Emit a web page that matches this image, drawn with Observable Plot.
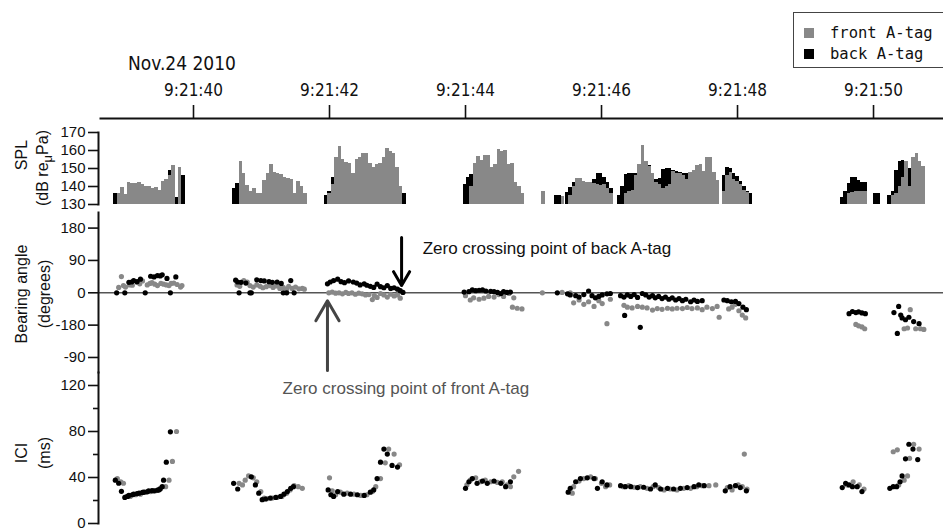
<!DOCTYPE html>
<html><head><meta charset="utf-8">
<script src="https://cdn.jsdelivr.net/npm/d3@7"></script>
<script src="https://cdn.jsdelivr.net/npm/@observablehq/plot@0.6"></script>
<style>
body{margin:0;background:#fff;}
#chart{position:relative;width:943px;height:530px;overflow:hidden;font-family:"Liberation Sans",Arial,sans-serif;color:#111;}
#chart svg{position:absolute;left:0;overflow:visible;background:transparent;}
.ylab{position:absolute;white-space:nowrap;transform:translate(-50%,-50%) rotate(-90deg);font-size:16px;line-height:16px;}
.legend{position:absolute;left:793px;top:12px;width:170px;height:54px;border:1px solid #444;background:#fff;font-family:"DejaVu Sans Mono",monospace;font-size:15.5px;}
.legend .it{position:absolute;left:10px;height:20px;display:flex;align-items:center;}
.legend .sw{width:10px;height:10px;margin-right:16px;}
</style></head><body><div id="chart"></div>
<script>
// ---------------- data ----------------
const series = ["front A-tag", "back A-tag"];
const seriesColors = ["#888888", "#000000"];
const dateLabel = "Nov.24 2010";
const timeTicks = [40, 42, 44, 46, 48, 50];              // seconds after 9:21:00
const timeTickLabels = ["9:21:40", "9:21:42", "9:21:44", "9:21:46", "9:21:48", "9:21:50"];
const splTicks = [130, 140, 150, 160, 170];
const bearingTicks = [180, 90, 0, -90, -180];
const bearingTickLabels = ["180", "90", "0", "-180", "-90"];
const iciTicks = [0, 40, 80, 120];
const iciMinorTicks = [20, 60, 100];

// SPL: bursts of 0.05 s bins, start times (s after 9:21:00); null = no bar
const splBin = 0.05;
const splStarts = [38.83, 40.57, 41.926, 43.966, 45.12, 45.31, 45.471, 46.235, 47.775, 49.515, 50.0, 50.21];
const splFront = [
  [null,136,139.5,135.5,142,141.6,141.6,142.5,141,140,140,139,139.5,138,143,144,146,151.5,null,150.5,null],
  [null,null,154,147,140.5,137,138.7,136,136,143.5,147,152.2,148,147,146.5,145,144.5,144,136,143,140,136],
  [null,136,141,156,162.5,155,153.5,153,147.5,155,156,158.5,158.5,153,150.5,152.4,153,156,161,159.5,158.5,150.5,140,null],
  [null,null,140,153,156.5,154.5,157,157,150.5,152,160.5,159.5,160,152,153,142.5,140,136],
  [137],
  [null,null,134.5],
  [null,135,140,144.5,144.3,143,142.5,142,141.5,141,140.5,141,139,136],
  [null,null,136,137,138,146,152.5,163,154,151,147,142.5,141,139,140,141,148.5,147.5,147,146,144,148,149,151.4,152.5,148.5,156,156,148,143.5],
  [137,146,148,144,143,141,138,136.5,null],
  [null,null,136,136.5,137,137.5,137.5,137.5],
  [null,null],
  [null,135,136,140,145,154,140,156,158.5,154,151]
];
const splBack = [
  [136,null,null,null,null,null,null,null,null,null,null,null,null,null,null,null,149,null,134,null,146],
  [139,141.8],
  [135,137.5,145,null,null,null,null,null,null,null,null,null,null,null,null,null,null,null,null,null,null,null,null,136],
  [141,145,146.8],
  [null],
  [135,135,null],
  [136.5,139.5,142,null,null,null,null,null,144,147,147,145,142,139],
  [135,140,146.5,147.5,147.5,147,null,null,null,151.5,null,144,144.5,149.4,150,150,149,148.5,147.8,147.5,147.5],
  [146,150.5,150,147.5,145.5,143,140,137.5,136],
  [134,137,141.5,145,145,143.5,142,142],
  [136,136],
  [135,137,149,154,154.5,153,150,155,150,154,140]
];

// Bearing angle [time, degrees]
const bearingFront = [
  [38.9,15],[38.94,45],[38.97,20],[39.0,16],[39.06,22],[39.1,21],[39.17,29],[39.21,25],[39.25,33],[39.32,22],[39.36,26],[39.39,28],[39.43,24],[39.47,20],[39.52,26],[39.56,24],[39.6,22],[39.64,20],[39.67,26],[39.71,27],[39.76,23],[39.81,16],[39.83,20],
  [40.64,22],[40.68,18],[40.74,34],[40.79,30],[40.83,20],[40.88,16],[40.93,22],[40.98,18],[41.02,14],[41.07,17],[41.12,20],[41.17,15],[41.22,19],[41.27,12],[41.32,15],[41.37,10],[41.4,18],[41.45,12],[41.5,16],[41.55,11],[41.6,12],[41.63,10],
  [41.99,0],[42.04,2],[42.09,-1],[42.14,0],[42.19,-3],[42.24,1],[42.28,-2],[42.33,0],[42.38,-4],[42.43,-1],[42.48,-3],[42.53,-6],[42.58,-5],[42.63,-19],[42.66,-8],[42.7,-13],[42.75,-2],[42.8,-6],[42.85,-12],[42.9,-4],[42.95,-9],[43.0,-6],[43.04,-15],
  [44.0,-8],[44.07,-20],[44.12,-14],[44.2,-18],[44.27,-15],[44.34,-10],[44.42,-12],[44.49,-5],[44.56,-10],[44.64,-2],[44.69,-40],[44.71,-14],[44.76,-43],[44.83,-45],
  [45.13,0],[45.42,1],[45.54,0],[45.59,-28],[45.67,-20],[45.74,-32],[45.81,-25],[45.89,-38],[45.96,-22],[46.01,-30],[46.08,-86],[46.13,-18],
  [46.33,-35],[46.38,-40],[46.45,-42],[46.53,-38],[46.6,-40],[46.67,-42],[46.75,-48],[46.82,-44],[46.89,-46],[46.97,-43],[47.04,-45],[47.11,-43],[47.19,-44],[47.26,-41],[47.33,-44],[47.41,-42],[47.48,-47],[47.55,-40],[47.63,-44],[47.7,-38],[47.73,-68],
  [47.87,-45],[47.92,-40],[47.97,-32],[48.02,-50],[48.07,-62],[48.12,-70],
  [49.74,-88],[49.78,-92],[49.83,-95],[49.87,-100],
  [50.45,-100],[50.5,-98],[50.54,-47],[50.62,-100],[50.69,-100],[50.74,-102]
];
const bearingBack = [
  [38.87,0],[38.99,0],[39.05,29],[39.09,30],[39.12,34],[39.17,31],[39.22,38],[39.29,0],[39.37,46],[39.42,44],[39.47,48],[39.51,47],[39.54,50],[39.61,40],[39.66,0],[39.74,44],
  [40.62,35],[40.65,30],[40.67,0],[40.7,29],[40.77,27],[40.83,0],[40.85,0],[40.93,36],[40.99,34],[41.04,33],[41.11,31],[41.16,29],[41.23,30],[41.29,26],[41.32,0],[41.37,0],[41.43,34],[41.48,0],
  [41.97,25],[42.01,30],[42.06,34],[42.12,38],[42.17,31],[42.22,28],[42.28,33],[42.35,30],[42.4,27],[42.45,22],[42.51,25],[42.55,21],[42.6,18],[42.65,15],[42.7,24],[42.75,17],[42.8,14],[42.85,20],[42.9,12],[42.95,14],[43.0,10],[43.04,6],[43.08,1],
  [43.98,2],[44.05,3],[44.1,8],[44.15,6],[44.2,7],[44.25,8],[44.3,5],[44.37,4],[44.42,3],[44.47,1],[44.52,-2],[44.56,3],[44.61,1],[44.66,2],
  [45.35,0],[45.5,-3],[45.54,-6],[45.62,-8],[45.67,-12],[45.74,-5],[45.81,5],[45.86,-8],[45.91,-14],[45.96,-10],[46.01,-6],[46.08,-3],[46.13,-2],
  [46.28,-8],[46.33,-12],[46.34,-63],[46.38,-6],[46.43,-10],[46.48,-5],[46.53,-13],[46.57,-96],[46.6,-2],[46.65,-6],[46.7,-12],[46.75,-8],[46.79,-14],[46.84,-10],[46.89,-16],[46.94,-12],[46.99,-18],[47.04,-14],[47.09,-20],[47.14,-16],[47.19,-22],[47.24,-18],[47.31,-25],[47.36,-20],[47.41,-24],[47.48,-22],
  [47.8,-20],[47.85,-22],[47.91,-25],[47.97,-24],[48.02,-30],[48.08,-40],[48.13,-47],
  [49.64,-58],[49.69,-52],[49.74,-55],[49.78,-53],[49.83,-56],[49.88,-58],
  [50.3,-55],[50.35,-113],[50.37,-38],[50.4,-62],[50.42,-70],[50.47,-75],[50.52,-68],[50.59,-80],[50.67,-86]
];

// ICI [time, ms]
const iciFront = [
  [38.88,39],[38.93,36.3],[38.97,35],[39.02,23.5],[39.07,23.5],[39.15,25],[39.22,25.5],[39.29,27.2],[39.37,27.8],[39.44,28.4],[39.51,30.6],[39.59,32],[39.64,37.7],[39.69,54],[39.75,80],
  [40.67,34.9],[40.72,33.5],[40.76,37.7],[40.81,41.4],[40.88,39.7],[40.93,36.3],[40.99,27.8],[41.04,22.1],[41.08,21.6],[41.16,22.1],[41.23,22.7],[41.3,23.5],[41.37,26.4],[41.42,29.2],[41.48,32.9],[41.54,32],[41.6,30.6],
  [42.0,39.7],[42.04,28.4],[42.09,25],[42.16,27.2],[42.26,26.4],[42.36,25.5],[42.46,24.4],[42.55,25],[42.63,27.8],[42.68,32],[42.75,39.1],[42.82,52.8],[42.87,64.7],[42.95,60.4],[43.03,51],
  [44.02,33.5],[44.07,37.7],[44.15,39.7],[44.22,36.3],[44.29,37.7],[44.37,36.3],[44.47,35.7],[44.54,36.3],[44.61,33.5],[44.66,32],[44.71,40.6],[44.78,45.4],
  [45.57,26.4],[45.59,32],[45.67,36.9],[45.74,39.1],[45.84,40.6],[45.91,39.1],[46.0,34.9],[46.06,32],[46.12,33.5],
  [46.32,32],[46.4,32.9],[46.48,31.5],[46.57,32],[46.67,30.6],[46.76,32],[46.84,31.2],[46.92,29.2],[47.01,30],[47.11,29.2],[47.21,30.6],[47.31,30.6],[47.4,32],[47.48,32.9],[47.58,32.9],[47.68,33.5],
  [47.85,31.2],[47.92,29.2],[48.01,33.5],[48.07,32],[48.1,60.4],[48.14,30],
  [49.61,33.5],[49.7,36.3],[49.79,33.5],[49.86,30],
  [50.29,62.4],[50.35,64.1],[50.37,33.5],[50.45,37.7],[50.5,41.4],[50.53,56.7],[50.59,68.9],[50.67,64.7]
];
const iciBack = [
  [38.85,37.7],[38.9,35],[38.94,28],[38.99,22.7],[39.03,23.5],[39.05,24.4],[39.1,25],[39.12,25.5],[39.17,26],[39.2,26.4],[39.25,27],[39.27,27.2],[39.32,27.5],[39.34,28.4],[39.39,28.5],[39.42,28.4],[39.47,29],[39.49,29.2],[39.51,30],[39.54,32],[39.56,37.7],[39.6,53.3],[39.66,79.7],
  [40.59,34.9],[40.65,30],[40.85,40.6],[40.91,33.5],[40.96,26.4],[41.01,20.7],[41.06,21.3],[41.13,22.1],[41.21,22.7],[41.28,23.5],[41.33,25.5],[41.38,27.8],[41.43,30.6],[41.47,32],
  [41.98,29.2],[42.02,25],[42.06,23.5],[42.12,27.8],[42.21,25.5],[42.31,25.5],[42.41,25],[42.51,24.4],[42.6,27.2],[42.65,29.2],[42.7,39.1],[42.75,53.3],[42.8,64.7],[42.85,60.4],[42.92,50.5],[43.0,49.1],
  [44.0,30.6],[44.05,36.3],[44.1,39.1],[44.17,34.9],[44.25,36.9],[44.32,34.9],[44.42,36.9],[44.52,34.9],[44.59,32],[44.66,36.3],
  [45.51,27.2],[45.54,30.6],[45.62,36.3],[45.69,39.1],[45.79,39.7],[45.89,39.1],[45.94,30.6],[46.01,36.3],[46.08,33.5],
  [46.28,32.9],[46.35,32],[46.43,32],[46.53,31.2],[46.62,31.5],[46.72,30],[46.79,33.5],[46.87,30],[46.97,30.6],[47.06,30],[47.16,30.6],[47.26,31.2],[47.36,32],[47.43,33.5],[47.51,32.9],
  [47.82,28.4],[47.89,32],[47.97,32.9],[48.04,31.2],[48.13,28.4],
  [49.54,31.2],[49.59,34.9],[49.64,33.5],[49.69,32],[49.76,32],[49.83,27.8],
  [50.24,30.6],[50.29,32],[50.34,32],[50.39,36.3],[50.42,41.4],[50.47,56.2],[50.52,68.9],[50.58,64.7],[50.65,55.6]
];

// annotations: zero crossing times
const backCrossing = [{t: 43.06, from: 154, to: 20}];
const frontCrossing = [{t: 41.97, from: -216, to: -22}];
const backCrossLabel = [{t: 43.37, v: 123, text: "Zero crossing point of back A-tag"}];
const frontCrossLabel = [{t: 41.31, v: 117.4, text: "Zero crossing point of front A-tag"}];

// ---------------- layout ----------------
const W = 943, ML = 98;
const xDomain = [38.603, 51.029];
const chart = document.getElementById("chart");
const baseStyle = {fontFamily: "'Liberation Sans', Arial, sans-serif", fontSize: "15px", color: "#111", background: "transparent", overflow: "visible"};
function place(svg, top) { svg.style.top = top + "px"; chart.appendChild(svg); }

// top time axis
place(Plot.plot({
  width: W, height: 125, marginTop: 118, marginBottom: 7, marginLeft: ML + 2, marginRight: 0,
  x: {domain: [38.603 + 2/68, 51.029]},
  style: {...baseStyle, fontFamily: "'Liberation Sans Narrow', 'DejaVu Sans Condensed', sans-serif", fontSize: "17px"},
  marks: [
    Plot.axisX(timeTicks, {anchor: "top", tickSize: 14, tickPadding: 9, strokeWidth: 1.6,
      tickFormat: d => timeTickLabels[timeTicks.indexOf(d)], label: null}),
    Plot.frame({anchor: "top", strokeWidth: 2})
  ]
}), 0);

// SPL bars
const splRows = [];
splStarts.forEach((s, b) => {
  series.forEach((name, k) => {
    const vals = k === 0 ? splFront[b] : splBack[b];
    vals.forEach((v, i) => { if (v != null) splRows.push({series: name, t1: s + i * splBin, t2: s + (i + 1) * splBin, v}); });
  });
});
place(Plot.plot({
  width: W, height: 85, marginTop: 7, marginBottom: 6, marginLeft: ML, marginRight: 0,
  x: {domain: xDomain, axis: null},
  y: {domain: [130, 170], clamp: true, axis: null},
  style: baseStyle,
  marks: [
    Plot.rect(splRows.filter(d => d.series === series[1]), {x1: "t1", x2: "t2", y1: d => 130, y2: "v", fill: seriesColors[1], shapeRendering: "crispEdges"}),
    Plot.rect(splRows.filter(d => d.series === series[0]), {x1: "t1", x2: "t2", y1: d => 130, y2: "v", fill: seriesColors[0], shapeRendering: "crispEdges"}),
    Plot.axisY(splTicks, {anchor: "left", tickSize: 10, tickPadding: 3, strokeWidth: 1.6, label: null}),
    Plot.frame({anchor: "left", strokeWidth: 2})
  ]
}), 125);

// Bearing angle
place(Plot.plot({
  width: W, height: 162, marginTop: 2, marginBottom: 0, marginLeft: ML, marginRight: 0,
  x: {domain: xDomain, axis: null},
  y: {domain: [-221.8, 223.4], axis: null},
  style: baseStyle,
  marks: [
    Plot.ruleY([0], {stroke: "#555", strokeWidth: 1.6}),
    Plot.dot(bearingFront, {x: d => d[0], y: d => d[1], r: 2.6, fill: seriesColors[0], stroke: "none"}),
    Plot.dot(bearingBack, {x: d => d[0], y: d => d[1], r: 2.6, fill: seriesColors[1], stroke: "none"}),
    Plot.arrow(backCrossing, {x1: "t", x2: "t", y1: "from", y2: "to", stroke: "#000", strokeWidth: 3, headLength: 13}),
    Plot.arrow(frontCrossing, {x1: "t", x2: "t", y1: "from", y2: "to", stroke: "#444", strokeWidth: 3, headLength: 13}),
    Plot.text(backCrossLabel, {x: "t", y: "v", text: "text", textAnchor: "start", fontSize: 17, fill: "#111"}),
    Plot.axisY(bearingTicks, {anchor: "left", tickSize: 10, tickPadding: 3, strokeWidth: 1.6, label: null,
      tickFormat: d => bearingTickLabels[bearingTicks.indexOf(d)]}),
    Plot.frame({anchor: "left", strokeWidth: 2})
  ]
}), 210);

// ICI
place(Plot.plot({
  width: W, height: 158, marginTop: 0, marginBottom: 7, marginLeft: ML, marginRight: 0,
  x: {domain: xDomain, axis: null},
  y: {domain: [0, 131.3], axis: null},
  style: baseStyle,
  marks: [
    Plot.dot(iciFront, {x: d => d[0], y: d => d[1], r: 2.6, fill: seriesColors[0], stroke: "none"}),
    Plot.dot(iciBack, {x: d => d[0], y: d => d[1], r: 2.6, fill: seriesColors[1], stroke: "none"}),
    Plot.text(frontCrossLabel, {x: "t", y: "v", text: "text", textAnchor: "start", fontSize: 17, fill: "#555"}),
    Plot.axisY(iciTicks, {anchor: "left", tickSize: 10, tickPadding: 3, strokeWidth: 1.6, label: null}),
    Plot.axisY(iciMinorTicks, {anchor: "left", tickSize: 5, strokeWidth: 1.6, tickFormat: () => "", label: null}),
    Plot.frame({anchor: "left", strokeWidth: 2})
  ]
}), 372);

// titles, axis labels, legend
function addDiv(cls, html, css) { const d = document.createElement("div"); d.className = cls; d.innerHTML = html; Object.assign(d.style, css); chart.appendChild(d); return d; }
addDiv("", dateLabel, {position: "absolute", left: "128px", top: "52px", fontFamily: "'Liberation Sans Narrow','DejaVu Sans Condensed',sans-serif", fontSize: "19px"});
addDiv("ylab", "SPL", {left: "22px", top: "155px"});
addDiv("ylab", '(dB re<span style="font-size:13px;vertical-align:-4px">μ</span>Pa)', {left: "45px", top: "168px"});
addDiv("ylab", "Bearing angle", {left: "22px", top: "294px"});
addDiv("ylab", "(degrees)", {left: "45px", top: "294px"});
addDiv("ylab", "ICI", {left: "22px", top: "453px"});
addDiv("ylab", "(ms)", {left: "45px", top: "453px"});
const lg = addDiv("legend", "", {});
series.forEach((name, k) => {
  const it = document.createElement("div"); it.className = "it"; it.style.top = (k === 0 ? 10 : 31) + "px";
  it.innerHTML = `<div class="sw" style="background:${seriesColors[k]}"></div><span>${name}</span>`;
  lg.appendChild(it);
});
</script></body></html>
